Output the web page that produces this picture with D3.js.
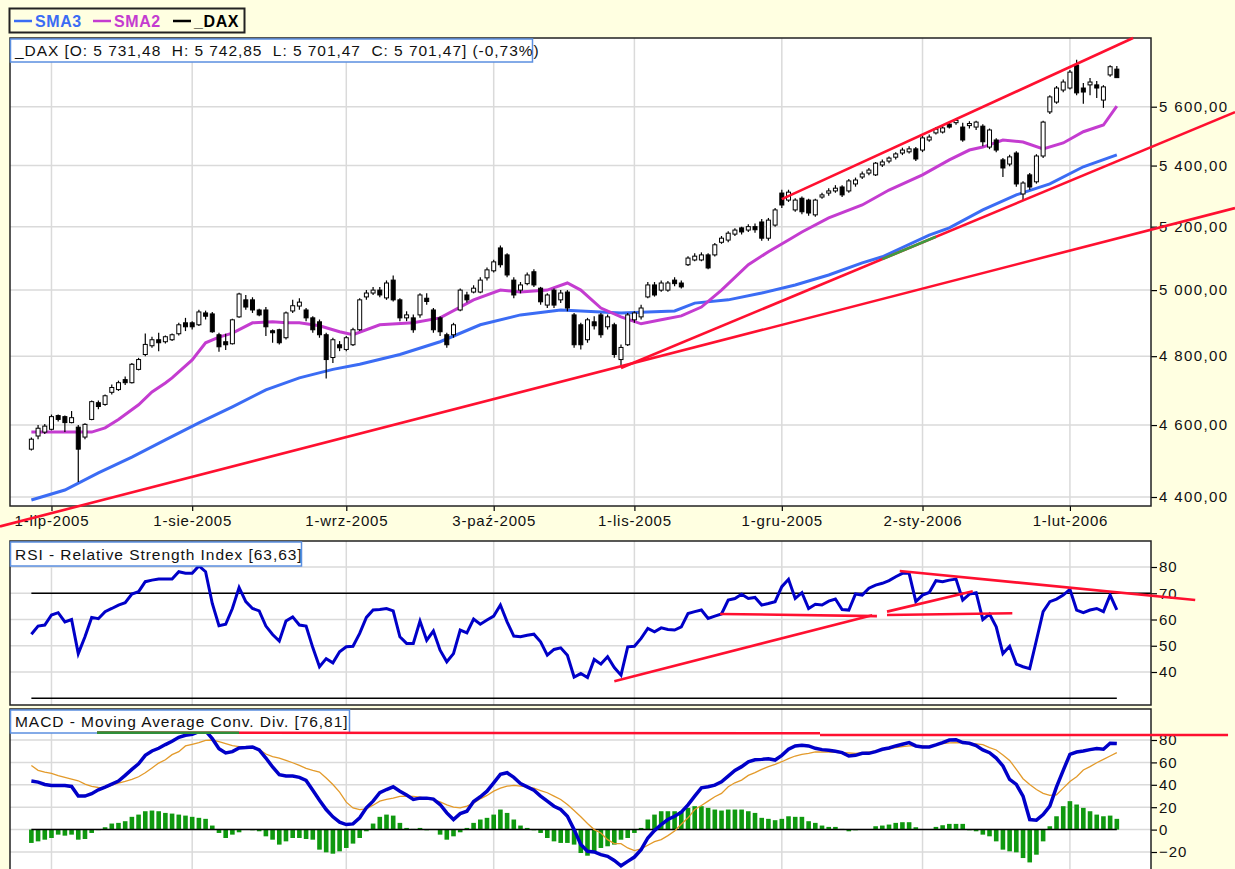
<!DOCTYPE html>
<html>
<head>
<meta charset="utf-8">
<script src="https://cdn.jsdelivr.net/npm/d3@7"></script>
<style>
body { margin: 0; background: #ffffe1; }
svg { display: block; font-family: "Liberation Sans", Arial, sans-serif; }
</style>
</head>
<body>
<div id="chart"></div>
<script>
// ---- data ----
var tickIdx = [3, 24, 47, 69, 90, 112, 133, 155];
var tickLabels = ["1-lip-2005", "1-sie-2005", "1-wrz-2005", "3-paź-2005", "1-lis-2005", "1-gru-2005", "2-sty-2006", "1-lut-2006"];
var priceTicks = [4400, 4600, 4800, 5000, 5200, 5400, 5600];
var rsiTicks = [40, 50, 60, 70, 80];
var macdTicks = [-20, 0, 20, 40, 60, 80];

var open = [4532,4569,4580,4588,4627,4624,4607,4594,4566,4616,4664,4659,4694,4702,4731,4722,4761,4805,4831,4849,
  4843,4849,4867,4900,4900,4894,4930,4927,4864,4843,4837,4918,4970,4970,4939,4939,4876,4879,4855,4936,
  4951,4939,4915,4903,4864,4796,4834,4820,4834,4879,4979,4991,5000,4976,5031,4970,4915,4915,4924,4975,
  4939,4915,4864,4864,4939,4985,4994,4994,5038,5060,5132,5110,5031,5000,5020,5057,5006,4954,5000,4970,
  4994,4924,4894,4849,4903,4924,4888,4894,4790,4834,4909,4918,4979,5016,5000,5000,5031,5022,5079,5094,
  5094,5110,5110,5150,5157,5176,5196,5189,5200,5215,5163,5205,5309,5286,5254,5292,5286,5238,5296,5309,
  5316,5329,5316,5339,5362,5375,5369,5402,5415,5428,5442,5446,5456,5452,5486,5510,5513,5540,5545,5530,
  5535,5530,5533,5462,5486,5419,5405,5442,5306,5369,5346,5432,5582,5616,5658,5665,5746,5665,5676,5676,
  5623,5711,5731.48];
var high = [4565,4600,4603,4630,4630,4627,4640,4600,4605,4670,4670,4688,4717,4728,4740,4780,4795,4868,4858,4870,
  4862,4868,4900,4915,4905,4940,4937,4933,4870,4867,4912,4992,4985,4978,4943,4948,4880,4882,4934,4970,
  4975,4945,4920,4910,4870,4855,4845,4860,4885,4975,5000,5010,5010,5030,5045,4975,4935,4925,4990,4990,
  4945,4920,4870,4900,5005,4995,5015,5040,5070,5095,5140,5115,5040,5025,5055,5065,5010,4990,5005,5000,
  5000,4930,4900,4915,4920,4930,4925,4900,4835,4930,4935,4955,5025,5025,5030,5028,5040,5030,5106,5115,
  5118,5115,5148,5170,5185,5195,5200,5208,5210,5225,5228,5260,5320,5320,5292,5298,5290,5290,5310,5325,
  5335,5335,5355,5360,5380,5392,5412,5420,5430,5445,5460,5465,5462,5500,5505,5530,5535,5548,5560,5545,
  5550,5552,5540,5525,5492,5425,5436,5448,5348,5375,5438,5552,5640,5672,5695,5728,5765,5683,5700,5690,
  5675,5745,5742.85];
var low = [4528,4560,4575,4585,4610,4580,4605,4441,4560,4614,4645,4655,4688,4698,4715,4720,4758,4800,4825,4815,
  4838,4845,4862,4875,4880,4890,4910,4870,4813,4818,4835,4915,4940,4930,4920,4860,4840,4835,4850,4930,
  4940,4905,4870,4855,4734,4780,4815,4815,4830,4875,4970,4985,4978,4970,4965,4905,4905,4870,4915,4955,
  4870,4860,4825,4855,4935,4962,4990,4990,5030,5055,5070,5040,4975,4990,5015,5010,4955,4945,4945,4960,
  4935,4825,4820,4840,4880,4855,4880,4795,4767,4830,4900,4910,4975,4980,4995,4995,5012,5005,5075,5090,
  5090,5065,5105,5145,5150,5170,5175,5183,5180,5155,5155,5200,5260,5280,5248,5240,5235,5232,5290,5300,
  5310,5296,5310,5330,5355,5368,5365,5395,5408,5420,5435,5440,5415,5445,5480,5505,5508,5525,5538,5480,
  5525,5520,5465,5455,5445,5362,5398,5330,5283,5320,5340,5425,5575,5610,5650,5660,5640,5610,5640,5630,
  5596,5705,5701.47];
var close = [4560,4591,4597,4624,4616,4607,4621,4532,4602,4667,4653,4684,4708,4722,4722,4776,4790,4835,4849,4840,
  4858,4864,4894,4888,4888,4933,4920,4873,4828,4834,4909,4988,4948,4939,4924,4888,4870,4840,4930,4952,
  4963,4915,4879,4864,4790,4849,4825,4855,4879,4970,4991,5000,4985,5022,4970,4915,4924,4879,4985,4965,
  4879,4873,4834,4894,5000,4970,5006,5031,5063,5088,5079,5047,4985,5016,5047,5016,4964,4985,4954,4991,
  4945,4834,4834,4909,4891,4864,4918,4805,4826,4924,4930,4945,5016,4985,5022,5022,5020,5010,5100,5106,
  5110,5069,5142,5163,5179,5189,5183,5200,5190,5163,5221,5254,5270,5312,5286,5248,5244,5286,5303,5316,
  5325,5303,5349,5352,5372,5385,5408,5412,5425,5439,5452,5456,5422,5493,5496,5523,5527,5530,5553,5486,
  5542,5547,5480,5520,5452,5392,5429,5339,5342,5329,5432,5547,5634,5665,5686,5721,5648,5651,5686,5665,
  5669,5740,5701.47];

// moving averages (vertices: bar index, value)
var sma2Idx = [0,4,9,11,13,16,18,20,21,24,26,28,30,33,36,38,40,43,46,48,52,57,61,66,70,73,77,80,82,85,88,91,94,97,100,103,107,110,113,115,119,124,128,133,137,140,142,145,148,151,154,157,160,162];
var sma2Val = [4580,4580,4580,4592,4616,4658,4695,4721,4736,4789,4840,4857,4869,4900,4903,4900,4900,4891,4873,4864,4894,4900,4915,4970,5000,4994,5000,5022,5000,4945,4918,4897,4909,4921,4948,5000,5079,5120,5157,5183,5228,5270,5319,5369,5419,5452,5462,5486,5479,5456,5476,5514,5537,5602];
var sma3Idx = [0,5,10,15,20,25,30,35,40,45,49,55,61,67,73,79,82,88,92,96,99,104,109,114,119,124,127,134,137,142,147,152,157,162];
var sma3Val = [4392,4419,4466,4510,4558,4606,4652,4701,4736,4761,4776,4805,4843,4894,4924,4939,4936,4930,4933,4936,4960,4970,4991,5016,5047,5085,5104,5173,5196,5254,5303,5339,5396,5436];

var rsi = [54.4,57.5,57.9,61.7,62.6,59.1,60.0,47.0,53.4,60.8,60.3,63.0,64.2,65.5,66.4,69.7,70.6,74.4,75.0,75.4,
  75.4,75.4,78.2,77.6,77.6,80.4,78.2,66.1,57.6,58.2,64.2,72.2,66.8,64.2,63.3,57.5,54.3,51.8,59.4,61.0,
  57.9,57.5,49.3,42.0,45.1,43.5,47.7,49.6,49.8,54.7,60.8,63.6,63.8,64.2,63.3,53.4,50.9,50.9,59.4,52.1,
  55.6,48.3,43.9,47.0,56.0,54.9,60.2,58.2,59.8,61.3,65.5,59.1,53.7,53.4,54.0,54.4,51.5,46.4,48.6,49.2,
  46.4,38.1,39.4,37.9,44.8,43.0,45.8,41.7,38.8,49.6,49.8,52.8,56.6,55.3,56.8,56.2,56.0,57.2,62.3,63.0,
  63.6,60.4,61.3,62.1,67.4,68.0,69.6,68.0,68.4,65.5,66.1,66.8,72.5,75.3,68.0,70.2,64.2,65.8,65.5,67.0,
  67.8,63.8,63.6,69.7,69.3,71.9,73.1,73.8,74.8,76.3,77.6,77.6,66.8,69.3,70.3,74.8,74.4,75.0,75.4,67.4,
  69.7,70.2,60.0,62.1,57.2,47.0,49.8,43.0,42.0,41.3,52.1,63.0,66.8,67.8,69.3,71.5,63.6,62.6,63.6,64.2,
  63.0,69.3,63.63];

var macd = [43.3,42.4,40.3,39.4,39.4,39.4,38.5,29.9,29.9,32.0,35.5,37.9,40.6,43.3,48.4,53.8,58.8,66.3,70.2,72.6,
  75.9,78.9,82.4,84.2,85.1,87.5,88.1,81.2,72.3,68.4,69.6,72.9,73.2,73.8,71.1,63.9,55.9,49.0,47.8,47.8,
  46.6,43.9,35.2,26.3,17.9,11.4,6.6,4.5,5.1,10.5,19.4,25.4,32.9,35.8,38.2,34.3,30.8,26.9,28.1,28.1,
  27.2,22.4,14.9,9.0,14.3,16.4,25.1,29.3,34.3,41.8,49.3,50.8,46.6,41.2,38.2,35.2,29.9,25.4,20.9,17.9,
  11.9,0.0,-13.4,-19.4,-20.0,-22.4,-23.9,-27.5,-32.3,-28.4,-24.5,-17.9,-7.5,-0.9,4.5,9.0,11.9,15.5,22.1,29.9,
  37.3,38.2,39.7,42.7,47.8,52.9,56.2,60.6,62.4,62.7,63.3,62.1,66.3,71.7,74.7,75.3,74.7,72.6,71.4,70.8,
  69.9,68.7,65.7,66.3,68.1,68.1,69.6,71.7,72.9,74.7,76.2,77.7,74.7,73.8,73.8,75.6,77.7,80.0,80.3,77.7,
  77.1,75.0,71.1,68.7,63.9,56.8,44.8,40.3,29.9,9.0,8.4,13.4,20.9,38.2,52.9,67.2,69.3,70.2,71.4,72.3,
  71.7,77.1,76.81];
var signal = [57.3,52.9,51.4,50.2,48.1,46.6,45.1,43.6,40.6,38.5,37.6,37.3,39.7,41.5,43.0,44.8,47.2,50.8,55.0,59.4,
  62.4,66.9,69.6,74.7,76.2,77.7,79.7,80.0,78.6,76.8,75.0,74.1,73.2,72.9,71.7,67.5,65.1,63.9,61.8,59.7,
  57.3,54.7,52.9,51.4,46.0,40.3,33.5,24.5,19.4,17.9,18.5,21.8,25.4,26.9,28.1,29.6,29.9,29.6,29.0,27.8,
  26.6,24.8,22.1,20.0,19.4,20.9,23.6,27.5,30.5,34.3,37.0,38.8,39.4,38.8,38.2,37.0,34.9,32.9,29.9,26.9,
  22.4,17.0,11.4,5.4,0.0,-3.0,-9.0,-12.5,-12.5,-16.4,-18.8,-17.3,-14.0,-10.8,-9.0,-5.4,-1.2,4.8,10.5,17.9,
  21.5,25.4,29.3,32.3,38.2,41.8,44.2,48.4,50.8,53.8,56.2,58.2,60.6,63.3,65.7,67.2,68.1,69.3,69.3,69.3,
  69.0,68.7,68.4,68.1,68.7,69.3,70.2,71.1,72.0,73.2,74.1,74.7,74.7,74.7,74.1,75.6,76.8,77.4,77.7,77.4,
  77.1,76.5,75.9,73.2,71.1,66.6,61.8,53.8,45.4,40.3,35.8,32.3,30.5,31.1,37.0,42.9,47.2,53.2,56.2,59.7,
  62.7,65.7,68.7];
var hist = [-11.9,-10.5,-9.0,-7.5,-4.5,-5.4,-4.5,-9.0,-8.4,-3.0,-0.5,2.1,5.4,6.0,7.5,11.4,13.4,16.4,17.0,16.4,
  14.9,14.3,13.4,12.5,11.4,10.5,9.6,3.6,-3.0,-7.5,-4.5,-2.4,0,-0.6,-1.5,-6.0,-9.0,-13.4,-10.5,-7.5,
  -7.5,-8.4,-9.0,-17.9,-20.3,-21.5,-19.4,-16.4,-12.5,-7.5,-1.5,5.4,11.4,13.4,12.5,6.0,1.5,0.6,1.5,-0.6,
  0,-4.5,-9.0,-6.0,-2.4,1.5,6.0,9.0,10.5,13.4,17.9,14.9,9.0,3.6,1.5,-0.6,-3.0,-7.5,-10.5,-11.9,
  -11.9,-13.4,-20.9,-23.3,-19.4,-16.4,-14.9,-13.4,-9.0,-7.5,-3.0,1.5,9.0,13.4,16.4,16.4,16.4,16.4,19.4,20.9,
  20.9,19.4,17.9,17.0,17.9,17.9,17.9,16.4,14.9,10.5,9.6,8.4,9.6,11.9,11.4,11.4,7.5,6.0,3.6,2.4,
  2.4,0.6,-1.5,-0.6,0,0,3.0,3.6,4.5,6.0,6.6,6.6,2.1,0,0,2.4,3.9,5.1,5.1,5.1,
  -0.6,-1.5,-4.5,-6.0,-10.5,-17.9,-19.4,-20.3,-25.4,-29.3,-22.4,-10.5,3.0,11.9,20.9,25.4,22.4,19.4,16.4,13.4,
  11.9,12.5,9.6];

// hand-drawn trendlines: [bar index, value] anchors
var priceLowLine = [[88, 4770], [162, 5162]];
var priceMidLine = [[88, 4765], [162, 5414]];
var priceTopLine = [[112, 5289], [162, 5816]];
var rsiLines = [
  [[87, 36.5], [125.5, 61.6]],
  [[127.7, 63.0], [140.5, 70.8]],
  [[102.8, 62.1], [126.2, 61.3]],
  [[127.7, 61.7], [146.4, 62.4]],
  [[129.6, 78.5], [173.7, 67.4]]
];
var macdLines = [
  [[9.8, 86.6], [117.7, 86.0]],
  [[117.7, 84.4], [178.6, 84.4]]
];

// ---- layout ----
var width = 1235, height = 869;
var left = 10, right = 1151;
var main = { top: 38, bottom: 506 };
var rsiP = { top: 541, bottom: 705 };
var macdP = { top: 709, bottom: 880 };

var svg = d3.select("#chart").append("svg")
  .attr("width", width).attr("height", height);

svg.append("rect").attr("width", width).attr("height", height).attr("fill", "#ffffe1");

var x = d3.scaleLinear().domain([-3.19, 167.1]).range([left, right]);
var yP = d3.scaleLog().domain([4400, 5600]).range([497, 106.7]);
var yR = d3.scaleLinear().domain([40, 80]).range([672, 567]);
var yM = d3.scaleLinear().domain([-20, 80]).range([852, 740]);

function panel(p, cid) {
  svg.append("rect").attr("x", left).attr("y", p.top)
    .attr("width", right - left).attr("height", p.bottom - p.top)
    .attr("fill", "#fff");
  svg.append("clipPath").attr("id", cid).append("rect")
    .attr("x", left).attr("y", p.top).attr("width", right - left).attr("height", p.bottom - p.top);
}
panel(main, "cMain");
panel(rsiP, "cRsi");
panel(macdP, "cMacd");

var gridColor = "#dadada";
function grid(p, ticks, y) {
  var g = svg.append("g").attr("stroke", gridColor).attr("stroke-width", 1.5);
  ticks.forEach(function (t) {
    g.append("line").attr("x1", left).attr("x2", right).attr("y1", y(t)).attr("y2", y(t));
  });
  tickIdx.forEach(function (t) {
    g.append("line").attr("x1", x(t)).attr("x2", x(t)).attr("y1", p.top).attr("y2", p.bottom);
  });
}
grid(main, priceTicks, yP);
grid(rsiP, rsiTicks, yR);
grid(macdP, macdTicks, yM);

// axes
function styleAxis(g, ls) {
  g.select(".domain").remove();
  g.selectAll("line").attr("stroke", "#000").attr("stroke-width", 1.2);
  g.selectAll("text").attr("font-family", "Liberation Sans, Arial, sans-serif")
    .attr("font-size", 15).attr("fill", "#111").style("letter-spacing", ls + "px");
}
function priceFmt(v) {
  var th = Math.floor(v / 1000), rest = String(v % 1000);
  while (rest.length < 3) rest = "0" + rest;
  return th + " " + rest + ",00";
}
svg.append("g").attr("transform", "translate(" + right + ",0)")
  .call(d3.axisRight(yP).tickValues(priceTicks).tickFormat(priceFmt).tickSize(6).tickPadding(2))
  .call(styleAxis, 1.4);
svg.append("g").attr("transform", "translate(" + right + ",0)")
  .call(d3.axisRight(yR).tickValues(rsiTicks).tickFormat(d3.format("d")).tickSize(6).tickPadding(2))
  .call(styleAxis, 1);
svg.append("g").attr("transform", "translate(" + right + ",0)")
  .call(d3.axisRight(yM).tickValues(macdTicks).tickFormat(d3.format("d")).tickSize(6).tickPadding(2))
  .call(styleAxis, 1);
svg.append("g").attr("transform", "translate(0," + main.bottom + ")")
  .call(d3.axisBottom(x).tickValues(tickIdx).tickFormat(function (d, i) { return tickLabels[i]; })
    .tickSize(5).tickPadding(4))
  .call(styleAxis, 0.8);

// reference lines
var refG = svg.append("g").attr("stroke", "#000").attr("stroke-width", 1.3);
refG.append("line").attr("x1", x(0)).attr("x2", right).attr("y1", yR(70)).attr("y2", yR(70));
refG.append("line").attr("x1", x(0)).attr("x2", x(162)).attr("y1", yR(30)).attr("y2", yR(30));

// ---- main: moving averages, candles ----
var mainG = svg.append("g").attr("clip-path", "url(#cMain)");
var lineP = d3.line().x(function (d) { return x(d[0]); }).y(function (d) { return yP(d[1]); });
mainG.append("path").datum(d3.zip(sma3Idx, sma3Val)).attr("d", lineP)
  .attr("fill", "none").attr("stroke", "#3b6cf4").attr("stroke-width", 3);
mainG.append("path").datum(d3.zip(sma2Idx, sma2Val)).attr("d", lineP)
  .attr("fill", "none").attr("stroke", "#c43cd0").attr("stroke-width", 3);

var candles = mainG.selectAll("g.candle").data(d3.range(open.length)).enter()
  .append("g").attr("class", "candle");
candles.append("line")
  .attr("x1", function (i) { return x(i); }).attr("x2", function (i) { return x(i); })
  .attr("y1", function (i) { return yP(high[i]); }).attr("y2", function (i) { return yP(low[i]); })
  .attr("stroke", "#000").attr("stroke-width", 1.2);
candles.append("rect")
  .attr("x", function (i) { return x(i) - 2; })
  .attr("y", function (i) { return yP(Math.max(open[i], close[i])); })
  .attr("width", 4)
  .attr("height", function (i) { return Math.max(1, Math.abs(yP(open[i]) - yP(close[i]))); })
  .attr("fill", function (i) { return close[i] >= open[i] ? "#fff" : "#000"; })
  .attr("stroke", "#000").attr("stroke-width", 1);

// ---- RSI ----
var rsiG = svg.append("g").attr("clip-path", "url(#cRsi)");
rsiG.append("path").datum(rsi)
  .attr("d", d3.line().x(function (d, i) { return x(i); }).y(function (d) { return yR(d); }))
  .attr("fill", "none").attr("stroke", "#0000c8").attr("stroke-width", 3);

// ---- MACD ----
var macdG = svg.append("g").attr("clip-path", "url(#cMacd)");
macdG.selectAll("rect.h").data(hist).enter().append("rect").attr("class", "h")
  .attr("x", function (d, i) { return x(i) - 2.3; })
  .attr("width", 4.6)
  .attr("y", function (d) { return Math.min(yM(d), yM(0)); })
  .attr("height", function (d) { return Math.abs(yM(d) - yM(0)); })
  .attr("fill", "#0f990f");
macdG.append("line").attr("x1", x(0)).attr("x2", x(162)).attr("y1", yM(0)).attr("y2", yM(0))
  .attr("stroke", "#000").attr("stroke-width", 1.5);
var lineM = d3.line().x(function (d, i) { return x(i); }).y(function (d) { return yM(d); });
macdG.append("path").datum(signal).attr("d", lineM)
  .attr("fill", "none").attr("stroke", "#e39a2a").attr("stroke-width", 1.3);
macdG.append("path").datum(macd).attr("d", lineM)
  .attr("fill", "none").attr("stroke", "#0000c8").attr("stroke-width", 3.5);

// ---- panel borders ----
[main, rsiP, macdP].forEach(function (p) {
  svg.append("rect").attr("x", left).attr("y", p.top)
    .attr("width", right - left).attr("height", p.bottom - p.top)
    .attr("fill", "none").attr("stroke", "#222").attr("stroke-width", 1.5);
});

// ---- title boxes ----
function titleBox(x0, y0, w, h, txt) {
  svg.append("rect").attr("x", x0 + 0.5).attr("y", y0).attr("width", w).attr("height", h)
    .attr("fill", "#fff").attr("stroke", "#5b8fe0").attr("stroke-width", 1.5);
  svg.append("text").attr("x", x0 + 5).attr("y", y0 + h - 6).attr("font-size", 15.5)
    .style("letter-spacing", "0.95px").style("white-space", "pre").attr("fill", "#111").text(txt);
}
titleBox(left, 39, 522, 23, "_DAX [O: 5 731,48  H: 5 742,85  L: 5 701,47  C: 5 701,47] (-0,73%)");
titleBox(left, 542, 291, 24, "RSI - Relative Strength Index [63,63]");
titleBox(left, 710, 339, 23, "MACD - Moving Average Conv. Div. [76,81]");

// ---- trendlines ----
var red = "#ff1030";
function pix(a, y) { return [x(a[0]), y(a[1])]; }
function drawExt(anchors, y, xa, xb) {
  var p0 = pix(anchors[0], y), p1 = pix(anchors[1], y);
  var k = (p1[1] - p0[1]) / (p1[0] - p0[0]);
  svg.append("line").attr("x1", xa).attr("y1", p0[1] + k * (xa - p0[0]))
    .attr("x2", xb).attr("y2", p0[1] + k * (xb - p0[0]))
    .attr("stroke", red).attr("stroke-width", 2.6);
  return function (xx) { return p0[1] + k * (xx - p0[0]); };
}
drawExt(priceLowLine, yP, 0, width);
var midAt = drawExt(priceMidLine, yP, x(priceMidLine[0][0]), width);
// green stretch where the SMA3 rides on the middle line
svg.append("line").attr("x1", x(127)).attr("y1", midAt(x(127)))
  .attr("x2", x(135)).attr("y2", midAt(x(135)))
  .attr("stroke", "#3f9b3f").attr("stroke-width", 2.6);
(function () {
  var p0 = pix(priceTopLine[0], yP), p1 = pix(priceTopLine[1], yP);
  var k = (p1[1] - p0[1]) / (p1[0] - p0[0]);
  var xe = p0[0] + (main.top - p0[1]) / k;
  svg.append("line").attr("x1", p0[0]).attr("y1", p0[1]).attr("x2", xe).attr("y2", main.top)
    .attr("stroke", red).attr("stroke-width", 2.6);
})();
rsiLines.forEach(function (l) {
  var p0 = pix(l[0], yR), p1 = pix(l[1], yR);
  svg.append("line").attr("x1", p0[0]).attr("y1", p0[1]).attr("x2", p1[0]).attr("y2", p1[1])
    .attr("stroke", red).attr("stroke-width", 2.6);
});
macdLines.forEach(function (l, j) {
  var p0 = pix(l[0], yM), p1 = pix(l[1], yM);
  svg.append("line").attr("x1", p0[0]).attr("y1", p0[1]).attr("x2", p1[0]).attr("y2", p1[1])
    .attr("stroke", red).attr("stroke-width", 2.6);
  if (j === 0) {
    svg.append("line").attr("x1", p0[0]).attr("y1", p0[1])
      .attr("x2", x(31)).attr("y2", p0[1] + (p1[1] - p0[1]) * (x(31) - p0[0]) / (p1[0] - p0[0]))
      .attr("stroke", "#2f8f3a").attr("stroke-width", 2.6);
  }
});

// ---- legend ----
var lg = svg.append("g");
lg.append("rect").attr("x", 9.5).attr("y", 8.5).attr("width", 235).attr("height", 24)
  .attr("fill", "#ffffe1").attr("stroke", "#222").attr("stroke-width", 2);
var items = [
  { name: "SMA3", color: "#3b6cf4", x: 14 },
  { name: "SMA2", color: "#c43cd0", x: 93 },
  { name: "_DAX", color: "#000", x: 173 }
];
items.forEach(function (it) {
  lg.append("line").attr("x1", it.x).attr("x2", it.x + 18).attr("y1", 21).attr("y2", 21)
    .attr("stroke", it.color).attr("stroke-width", 2.5);
  lg.append("text").attr("x", it.x + 21).attr("y", 27).attr("font-size", 16)
    .attr("font-weight", "bold").style("letter-spacing", "0.6px").attr("fill", it.color).text(it.name);
});
</script>
</body>
</html>
